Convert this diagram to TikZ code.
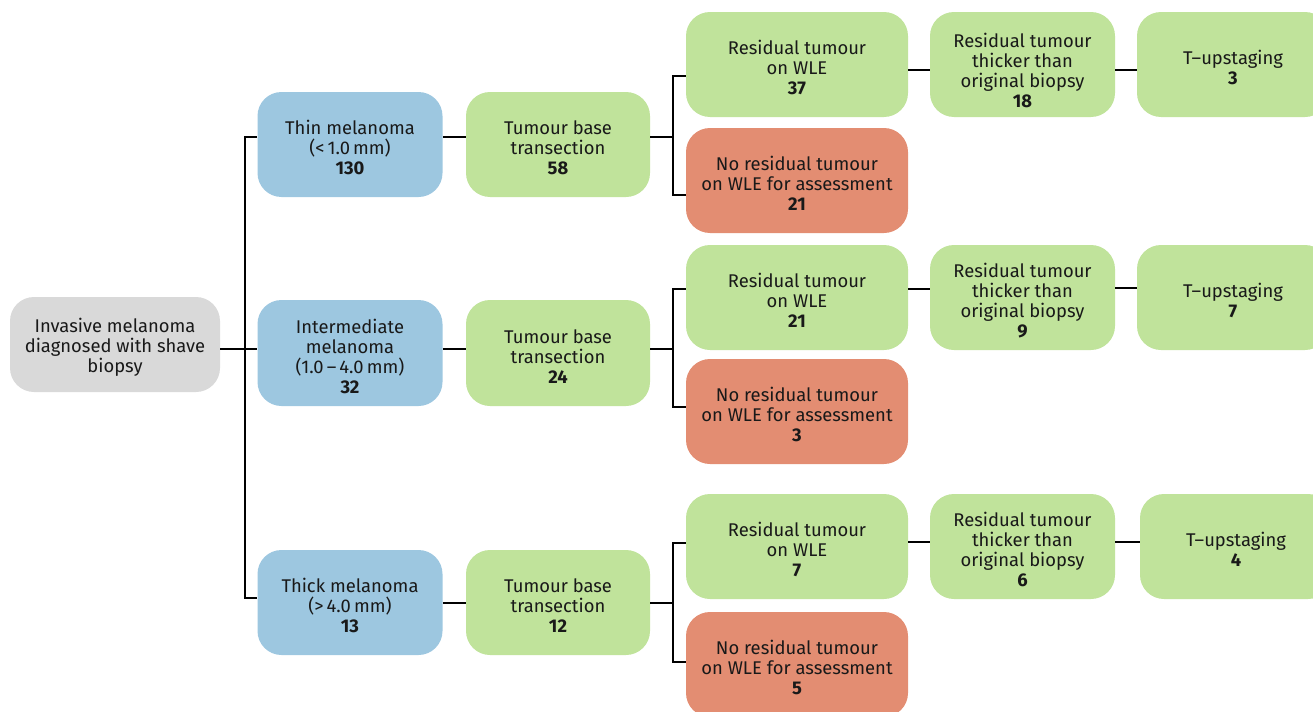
\documentclass[tikz,border=0pt]{standalone}
\usepackage{fontspec}
\setmainfont{Fira Sans}
\usetikzlibrary{calc}
\definecolor{cgrey}{RGB}{217,217,217}
\definecolor{cblue}{RGB}{157,199,224}
\definecolor{cgreen}{RGB}{192,227,155}
\definecolor{cred}{RGB}{227,141,114}
\definecolor{ctext}{RGB}{25,25,25}
\tikzset{
  txt/.style={align=center, inner sep=0pt, text=ctext, font=\fontsize{9.2}{10}\selectfont},
  tx/.style={label={[txt, yshift=-1.6pt]center:{#1}}},
  txd/.style={label={[txt, yshift=-3pt]center:{#1}}},
  box/.style={rectangle, rounded corners=12pt, inner sep=0pt,
    minimum height=52.5pt},
  greybox/.style={box, fill=cgrey, minimum width=105pt, minimum height=47.5pt},
  bluebox/.style={box, fill=cblue, minimum width=92.5pt},
  greenbox/.style={box, fill=cgreen, minimum width=92pt},
  widegreen/.style={box, fill=cgreen, minimum width=111pt},
  redbox/.style={box, fill=cred, minimum width=111pt},
  thkbox/.style={box, fill=cgreen, minimum width=92.5pt},
  tubox/.style={box, fill=cgreen, minimum width=96pt},
  link/.style={draw=black, line width=1pt}
}
\newcommand{\nb}[1]{\textbf{#1}}
\begin{document}
\begin{tikzpicture}[x=0.5pt,y=-0.5pt]
\useasboundingbox (0,0) rectangle (1313,712);
% level 0
\node[greybox, tx={Invasive melanoma\\diagnosed with shave\\biopsy}] (root) at (115,344.5) {};
% level 1
\node[bluebox, tx={Thin melanoma\\(<\,1.0\,mm)\\\nb{130}}] (thin) at (350,144.5) {};
\node[bluebox, minimum height=53pt, tx={Intermediate\\melanoma\\(1.0\,–\,4.0\,mm)\\\nb{32}}] (inter) at (350,353) {};
\node[bluebox, tx={Thick melanoma\\(>\,4.0\,mm)\\\nb{13}}] (thick) at (350,602.5) {};
% level 2
\node[greenbox, tx={Tumour base\\transection\\\nb{58}}] (tb1) at (558,144.5) {};
\node[greenbox, minimum height=53pt, tx={Tumour base\\transection\\\nb{24}}] (tb2) at (558,353) {};
\node[greenbox, tx={Tumour base\\transection\\\nb{12}}] (tb3) at (558,602.5) {};
% level 3
\node[widegreen, tx={Residual tumour\\on WLE\\\nb{37}}] (res1) at (797,64.5) {};
\node[redbox, tx={No residual tumour\\on WLE for assessment\\\nb{21}}] (no1) at (797,180.5) {};
\node[widegreen, tx={Residual tumour\\on WLE\\\nb{21}}] (res2) at (797,297.5) {};
\node[redbox, tx={No residual tumour\\on WLE for assessment\\\nb{3}}] (no2) at (797,411.5) {};
\node[widegreen, tx={Residual tumour\\on WLE\\\nb{7}}] (res3) at (797,546.5) {};
\node[redbox, tx={No residual tumour\\on WLE for assessment\\\nb{5}}] (no3) at (797,664.5) {};
% level 4
\node[thkbox, txd={Residual tumour\\thicker than\\original biopsy\\\nb{18}}] (thk1) at (1022.5,64.5) {};
\node[thkbox, tx={Residual tumour\\thicker than\\original biopsy\\\nb{9}}] (thk2) at (1022.5,297.5) {};
\node[thkbox, tx={Residual tumour\\thicker than\\original biopsy\\\nb{6}}] (thk3) at (1022.5,546.5) {};
% level 5
\node[tubox, tx={T–upstaging\\\nb{3}}] (tu1) at (1233,64.5) {};
\node[tubox, tx={T–upstaging\\\nb{7}}] (tu2) at (1233,297.5) {};
\node[tubox, tx={T–upstaging\\\nb{4}}] (tu3) at (1236,546.5) {};
% junctions
\coordinate (j0) at (245,349);
\coordinate (j1) at (673,137);
\coordinate (j2) at (673,349);
\coordinate (j3) at (673,603);
% root -> thickness groups
\draw[link] ($(root.east)+(0,4.5)$) -- ($(inter.west)+(0,-4)$);
\draw[link] ($(thin.west)+(0,-7.5)$) -| (j0) |- ($(thick.west)+(0,-4.5)$);
% groups -> tumour base
\draw[link] ($(thin.east)+(0,-7.5)$) -- ($(tb1.west)+(0,-7.5)$);
\draw[link] ($(inter.east)+(0,-4)$) -- ($(tb2.west)+(0,-4)$);
\draw[link] ($(thick.east)+(0,0.5)$) -- ($(tb3.west)+(0,0.5)$);
% tumour base -> residual / no residual
\draw[link] ($(tb1.east)+(0,-7.5)$) -- (j1);
\draw[link] ($(res1.west)+(0,11.5)$) -| (j1) |- ($(no1.west)+(0,14.5)$);
\draw[link] ($(tb2.east)+(0,-4)$) -- (j2);
\draw[link] ($(res2.west)+(0,-8.5)$) -| (j2) |- ($(no2.west)+(0,-4.5)$);
\draw[link] ($(tb3.east)+(0,0.5)$) -- (j3);
\draw[link] ($(res3.west)+(0,-3.5)$) -| (j3) |- ($(no3.west)+(0,-2.5)$);
% residual -> thicker
\draw[link] ($(res1.east)+(0,5.5)$) -- ($(thk1.west)+(0,5.5)$);
\draw[link] ($(res2.east)+(0,-8.5)$) -- ($(thk2.west)+(0,-8.5)$);
\draw[link] ($(res3.east)+(0,-4.5)$) -- ($(thk3.west)+(0,-4.5)$);
% thicker -> T-upstaging
\draw[link] ($(thk1.east)+(0,5.5)$) -- ($(tu1.west)+(0,5.5)$);
\draw[link] ($(thk2.east)+(0,-9.5)$) -- ($(tu2.west)+(0,-9.5)$);
\draw[link] ($(thk3.east)+(0,-4.5)$) -- ($(tu3.west)+(0,-4.5)$);
\end{tikzpicture}
\end{document}
